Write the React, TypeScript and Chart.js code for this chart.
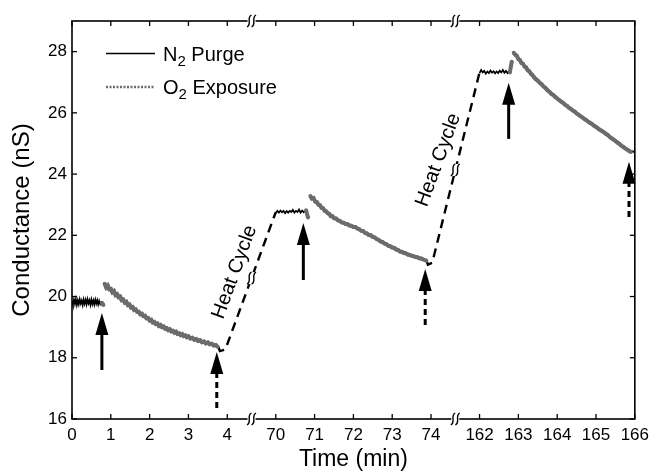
import React, { useEffect, useRef } from 'react';
import { Chart, registerables } from 'chart.js';

Chart.register(...registerables);

const FONT = '"Liberation Sans", Arial, Helvetica, sans-serif';

// Tick labels of the broken time axis (minutes)
const TICK_LABELS = ['0', '1', '2', '3', '4', '70', '71', '72', '73', '74', '162', '163', '164', '165', '166'];
const Y_TICKS = [16, 18, 20, 22, 24, 26, 28];

// Axis segments: real-time start of each segment and its offset on the drawn axis
const SEGMENT_STARTS = [0, 70, 162];
const SEGMENT_OFFSETS = [0, 5.25, 10.5];
const AXIS_MAX = 14.5;
const BREAKS = [4.625, 9.875];

function toAxis(t: number): number {
  for (let i = SEGMENT_STARTS.length - 1; i >= 0; i--) {
    if (t >= SEGMENT_STARTS[i] - 0.5) return t - SEGMENT_STARTS[i] + SEGMENT_OFFSETS[i];
  }
  return t;
}

// N2 purge (black) — [time, conductance]
const N2_SEG1: number[][] = [
  [0, 19.86], [0.025, 19.74], [0.05, 19.9], [0.075, 19.76], [0.1, 19.92], [0.125, 19.73], [0.15, 19.88],
  [0.175, 19.75], [0.2, 19.91], [0.225, 19.77], [0.25, 19.87], [0.275, 19.72], [0.3, 19.9], [0.325, 19.76],
  [0.35, 19.89], [0.375, 19.74], [0.4, 19.91], [0.425, 19.78], [0.45, 19.88], [0.475, 19.73], [0.5, 19.9],
  [0.525, 19.75], [0.55, 19.87], [0.575, 19.74], [0.6, 19.9], [0.625, 19.77], [0.65, 19.88], [0.675, 19.74],
  [0.7, 19.86], [0.725, 19.76], [0.75, 19.84],
];
const N2_SEG2: number[][] = [
  [70.0, 22.72], [70.04, 22.8], [70.08, 22.74], [70.12, 22.81], [70.16, 22.75], [70.2, 22.8], [70.24, 22.72],
  [70.28, 22.79], [70.32, 22.74], [70.36, 22.8], [70.4, 22.76], [70.44, 22.83], [70.48, 22.74], [70.52, 22.8],
  [70.56, 22.76], [70.6, 22.84], [70.64, 22.74], [70.68, 22.81], [70.72, 22.75], [70.75, 22.79],
];
const N2_SEG3: number[][] = [
  [162.0, 27.3], [162.04, 27.4], [162.08, 27.32], [162.12, 27.37], [162.16, 27.28], [162.2, 27.35],
  [162.24, 27.3], [162.28, 27.38], [162.32, 27.31], [162.36, 27.36], [162.4, 27.29], [162.44, 27.35],
  [162.48, 27.3], [162.52, 27.38], [162.56, 27.32], [162.6, 27.4], [162.64, 27.31], [162.68, 27.37],
  [162.72, 27.3], [162.75, 27.35],
];
const N2_SEG4: number[][] = [[165.93, 24.76], [166.0, 24.7]];

// O2 exposure (grey) — transition dots and decay curves
const O2_TRANS1: number[][] = [[0.77, 19.8], [0.81, 19.72]];
const O2_SEG1: number[][] = [
  [0.84, 20.42], [0.88, 20.3], [0.92, 20.36], [0.96, 20.24], [1.0, 20.25], [1.04, 20.14], [1.08, 20.18],
  [1.12, 20.05], [1.16, 20.08], [1.2, 19.98], [1.24, 20.0], [1.28, 19.88], [1.32, 19.9], [1.36, 19.8],
  [1.4, 19.83], [1.44, 19.72], [1.48, 19.74], [1.52, 19.64], [1.56, 19.66], [1.6, 19.56], [1.64, 19.58],
  [1.68, 19.5], [1.72, 19.5], [1.76, 19.42], [1.8, 19.44], [1.84, 19.36], [1.88, 19.37], [1.92, 19.29],
  [1.96, 19.3], [2.0, 19.22], [2.04, 19.24], [2.08, 19.15], [2.12, 19.17], [2.16, 19.1], [2.2, 19.12],
  [2.24, 19.04], [2.28, 19.07], [2.32, 19.0], [2.36, 19.02], [2.4, 18.95], [2.44, 18.97], [2.48, 18.9],
  [2.52, 18.93], [2.56, 18.86], [2.6, 18.88], [2.64, 18.82], [2.68, 18.85], [2.72, 18.78], [2.76, 18.8],
  [2.8, 18.74], [2.84, 18.77], [2.88, 18.71], [2.92, 18.73], [2.96, 18.67], [3.0, 18.7], [3.05, 18.63],
  [3.1, 18.65], [3.15, 18.59], [3.2, 18.61], [3.25, 18.55], [3.3, 18.57], [3.35, 18.51], [3.4, 18.53],
  [3.45, 18.47], [3.5, 18.5], [3.55, 18.44], [3.6, 18.46], [3.65, 18.4], [3.7, 18.42], [3.75, 18.36],
];
const O2_TRANS2: number[][] = [[70.78, 22.82], [70.83, 22.58]];
const O2_SEG2: number[][] = [
  [70.89, 23.28], [70.93, 23.2], [70.97, 23.22], [71.02, 23.1], [71.06, 23.08], [71.1, 23.0], [71.14, 22.98],
  [71.18, 22.9], [71.22, 22.88], [71.26, 22.8], [71.3, 22.78], [71.34, 22.72], [71.38, 22.7], [71.42, 22.62],
  [71.46, 22.62], [71.5, 22.56], [71.55, 22.55], [71.6, 22.49], [71.65, 22.47], [71.7, 22.42], [71.75, 22.41],
  [71.8, 22.37], [71.85, 22.36], [71.9, 22.32], [71.95, 22.31], [72.0, 22.27], [72.05, 22.27], [72.1, 22.22],
  [72.15, 22.2], [72.2, 22.15], [72.25, 22.14], [72.3, 22.08], [72.35, 22.06], [72.4, 22.01], [72.45, 22.0],
  [72.5, 21.95], [72.55, 21.93], [72.6, 21.88], [72.65, 21.85], [72.7, 21.8], [72.75, 21.78], [72.8, 21.73],
  [72.85, 21.71], [72.9, 21.66], [72.95, 21.64], [73.0, 21.6], [73.05, 21.59], [73.1, 21.54], [73.15, 21.52],
  [73.2, 21.47], [73.25, 21.46], [73.3, 21.42], [73.35, 21.41], [73.4, 21.37], [73.45, 21.36], [73.5, 21.33],
  [73.55, 21.32], [73.6, 21.29], [73.65, 21.28], [73.7, 21.25], [73.75, 21.24], [73.8, 21.21], [73.88, 21.17],
];
const O2_TRANS3: number[][] = [[162.78, 27.32], [162.83, 27.67]];
const O2_SEG3: number[][] = [
  [162.88, 27.96], [162.92, 27.9], [162.96, 27.86], [163.0, 27.76], [163.04, 27.72], [163.08, 27.63],
  [163.12, 27.6], [163.16, 27.51], [163.2, 27.48], [163.24, 27.39], [163.28, 27.36], [163.32, 27.28],
  [163.36, 27.24], [163.4, 27.17], [163.45, 27.1], [163.5, 27.05], [163.55, 26.98], [163.6, 26.93],
  [163.65, 26.86], [163.7, 26.81], [163.75, 26.74], [163.8, 26.69], [163.85, 26.62], [163.9, 26.58],
  [163.95, 26.52], [164.0, 26.47], [164.05, 26.42], [164.1, 26.37], [164.15, 26.33], [164.2, 26.27],
  [164.25, 26.23], [164.3, 26.17], [164.35, 26.13], [164.4, 26.08], [164.45, 26.04], [164.5, 25.98],
  [164.55, 25.94], [164.6, 25.89], [164.65, 25.85], [164.7, 25.8], [164.75, 25.76], [164.8, 25.71],
  [164.85, 25.67], [164.9, 25.63], [164.95, 25.58], [165.0, 25.54], [165.05, 25.49], [165.1, 25.45],
  [165.15, 25.41], [165.2, 25.37], [165.25, 25.32], [165.3, 25.28], [165.35, 25.22], [165.4, 25.17],
  [165.45, 25.13], [165.5, 25.08], [165.55, 25.03], [165.6, 24.99], [165.65, 24.93], [165.7, 24.89],
  [165.75, 24.84], [165.8, 24.8], [165.85, 24.76], [165.9, 24.72],
];

// Heat cycle ramps (dashed)
const HEAT_RAMP1: number[][] = [[3.77, 18.36], [3.81, 18.22], [3.95, 18.27], [70.0, 22.76]];
const HEAT_RAMP2: number[][] = [[73.88, 21.18], [73.92, 21.04], [74.03, 21.1], [162.0, 27.32]];

// Arrows: [time, tip value, tail value]
const SOLID_ARROWS: number[][] = [[0.77, 19.46, 17.6], [70.71, 22.4, 20.54], [162.75, 26.98, 25.15]];
const DASHED_ARROWS: number[][] = [[3.73, 18.19, 16.36], [73.85, 20.9, 19.07], [165.85, 24.4, 22.6]];

// "Heat Cycle" labels: [axis position, value]
const HEAT_LABELS: number[][] = [[4.19, 20.8], [9.44, 24.46]];

const GREY = '#6c6c6c';

function toPoints(...segs: number[][][]) {
  const out: { x: number; y: number | null }[] = [];
  segs.forEach((seg, i) => {
    if (i > 0) out.push({ x: toAxis(seg[0][0]) - 0.001, y: null });
    seg.forEach(([t, v]) => out.push({ x: toAxis(t), y: v }));
  });
  return out;
}

function squiggle(ctx: CanvasRenderingContext2D, cx: number, cy: number, clear: number) {
  ctx.save();
  ctx.fillStyle = '#fff';
  ctx.fillRect(cx - 4, cy - clear, 8, clear * 2);
  ctx.strokeStyle = '#000';
  ctx.lineWidth = 1.4;
  ctx.setLineDash([]);
  for (const dx of [-2.3, 2.3]) {
    const x = cx + dx;
    ctx.beginPath();
    ctx.moveTo(x - 2.2, cy + 6);
    ctx.bezierCurveTo(x + 3.2, cy + 3, x - 3.2, cy - 3, x + 2.2, cy - 6);
    ctx.stroke();
  }
  ctx.restore();
}

function arrow(ctx: CanvasRenderingContext2D, x: number, tipY: number, tailY: number, dashed: boolean) {
  const headLen = 22;
  const headW = 6.5;
  ctx.save();
  ctx.strokeStyle = '#000';
  ctx.fillStyle = '#000';
  ctx.lineWidth = 3;
  ctx.setLineDash(dashed ? [6, 4] : []);
  ctx.beginPath();
  ctx.moveTo(x, tailY);
  ctx.lineTo(x, tipY + headLen - 2);
  ctx.stroke();
  ctx.setLineDash([]);
  ctx.beginPath();
  ctx.moveTo(x, tipY);
  ctx.lineTo(x - headW, tipY + headLen);
  ctx.lineTo(x + headW, tipY + headLen);
  ctx.closePath();
  ctx.fill();
  ctx.restore();
}

function subText(ctx: CanvasRenderingContext2D, x: number, y: number, main: string, sub: string, rest: string) {
  ctx.fillStyle = '#000';
  ctx.textAlign = 'left';
  ctx.textBaseline = 'alphabetic';
  ctx.font = `20px ${FONT}`;
  ctx.fillText(main, x, y);
  x += ctx.measureText(main).width;
  ctx.font = `15px ${FONT}`;
  ctx.fillText(sub, x, y + 5);
  x += ctx.measureText(sub).width;
  ctx.font = `20px ${FONT}`;
  ctx.fillText(rest, x, y);
}

const overlay = {
  id: 'overlay',
  afterDraw(chart: any) {
    const { ctx, chartArea: a, scales } = chart;
    const xs = scales.x;
    const ys = scales.y;
    const X = (t: number) => xs.getPixelForValue(toAxis(t));
    const XA = (u: number) => xs.getPixelForValue(u);
    const Y = (v: number) => ys.getPixelForValue(v);
    ctx.save();
    ctx.strokeStyle = '#000';
    ctx.lineWidth = 1.6;
    ctx.setLineDash([]);
    ctx.strokeRect(a.left, a.top, a.right - a.left, a.bottom - a.top);
    ctx.lineWidth = 1.3;
    const seg = (x1: number, y1: number, x2: number, y2: number) => {
      ctx.beginPath();
      ctx.moveTo(x1, y1);
      ctx.lineTo(x2, y2);
      ctx.stroke();
    };
    TICK_LABELS.forEach((l) => {
      const px = X(Number(l));
      seg(px, a.bottom, px, a.bottom - 5);
      seg(px, a.top, px, a.top + 5);
    });
    Y_TICKS.forEach((v) => {
      const py = Y(v);
      seg(a.left, py, a.left + 5, py);
      seg(a.right, py, a.right - 5, py);
    });
    BREAKS.forEach((u) => {
      squiggle(ctx, XA(u), a.bottom, 2.5);
      squiggle(ctx, XA(u), a.top, 2.5);
    });
    // squiggles on heat ramps
    [HEAT_RAMP1, HEAT_RAMP2].forEach((ramp, i) => {
      const u = BREAKS[i];
      for (let k = 0; k < ramp.length - 1; k++) {
        const u1 = toAxis(ramp[k][0]);
        const u2 = toAxis(ramp[k + 1][0]);
        if (u1 <= u && u2 >= u) {
          const x1 = XA(u1), x2 = XA(u2), y1 = Y(ramp[k][1]), y2 = Y(ramp[k + 1][1]);
          const px = XA(u);
          const py = y1 + ((px - x1) / (x2 - x1)) * (y2 - y1);
          squiggle(ctx, px, py, 6);
        }
      }
    });
    SOLID_ARROWS.forEach(([t, tip, tail]) => arrow(ctx, X(t), Y(tip), Y(tail), false));
    DASHED_ARROWS.forEach(([t, tip, tail]) => arrow(ctx, X(t), Y(tip), Y(tail), true));
    // Heat Cycle labels
    HEAT_LABELS.forEach(([u, v]) => {
      ctx.save();
      ctx.translate(XA(u), Y(v));
      ctx.rotate((-70 * Math.PI) / 180);
      ctx.fillStyle = '#000';
      ctx.font = `20px ${FONT}`;
      ctx.textAlign = 'center';
      ctx.textBaseline = 'middle';
      ctx.fillText('Heat Cycle', 0, 0);
      ctx.restore();
    });
    // Legend
    ctx.strokeStyle = '#000';
    ctx.lineWidth = 1.6;
    seg(a.left + 34, 53.5, a.left + 83, 53.5);
    ctx.strokeStyle = GREY;
    ctx.lineWidth = 2.5;
    ctx.setLineDash([2, 1.5]);
    seg(a.left + 34, 87, a.left + 83, 87);
    ctx.setLineDash([]);
    subText(ctx, a.left + 91, 61, 'N', '2', ' Purge');
    subText(ctx, a.left + 91, 94, 'O', '2', ' Exposure');
    ctx.restore();
  },
};

export default function App() {
  const ref = useRef<HTMLCanvasElement | null>(null);
  useEffect(() => {
    document.body.style.margin = '0';
    const canvas = ref.current;
    if (!canvas) return;
    const tickPos = TICK_LABELS.map((l) => toAxis(Number(l)));
    const chart = new Chart(canvas, {
      type: 'line',
      data: {
        datasets: [
          {
            label: 'O2 Exposure',
            data: toPoints(O2_TRANS1, O2_SEG1, O2_TRANS2, O2_SEG2, O2_TRANS3, O2_SEG3),
            borderColor: GREY,
            backgroundColor: GREY,
            borderWidth: 4,
            pointRadius: 2,
            pointBorderWidth: 0,
            pointBackgroundColor: GREY,
            spanGaps: false,
            tension: 0,
          },
          {
            label: 'N2 Purge',
            data: toPoints(N2_SEG1, N2_SEG2, N2_SEG3, N2_SEG4),
            borderColor: '#000',
            borderWidth: 1.7,
            pointRadius: 0,
            spanGaps: false,
            tension: 0,
          },
          {
            label: 'Heat Cycle',
            data: toPoints(HEAT_RAMP1, HEAT_RAMP2),
            borderColor: '#000',
            borderWidth: 2.4,
            borderDash: [9, 6],
            pointRadius: 0,
            spanGaps: false,
            tension: 0,
          },
        ],
      },
      options: {
        animation: false,
        responsive: false,
        parsing: false as any,
        normalized: true,
        layout: { padding: { left: 0, right: 16, top: 21, bottom: 0 } },
        plugins: { legend: { display: false }, tooltip: { enabled: false } },
        scales: {
          x: {
            type: 'linear',
            min: 0,
            max: AXIS_MAX,
            afterBuildTicks: (s: any) => {
              s.ticks = tickPos.map((v) => ({ value: v }));
            },
            afterFit: (s: any) => {
              s.height = 57;
            },
            ticks: {
              autoSkip: false,
              maxRotation: 0,
              padding: 6,
              color: '#000',
              font: { family: FONT, size: 17 },
              callback: (value: any) => {
                const i = tickPos.findIndex((p) => Math.abs(p - Number(value)) < 1e-6);
                return i >= 0 ? TICK_LABELS[i] : '';
              },
            },
            grid: { display: false, drawTicks: false },
            border: { display: false },
            title: {
              display: true,
              text: 'Time (min)',
              color: '#000',
              font: { family: FONT, size: 23 },
              padding: 3,
            },
          },
          y: {
            type: 'linear',
            min: 16,
            max: 29,
            afterBuildTicks: (s: any) => {
              s.ticks = Y_TICKS.map((v) => ({ value: v }));
            },
            afterFit: (s: any) => {
              s.width = 72;
            },
            ticks: {
              padding: 5,
              color: '#000',
              font: { family: FONT, size: 17 },
            },
            grid: { display: false, drawTicks: false },
            border: { display: false },
            title: {
              display: true,
              text: 'Conductance (nS)',
              color: '#000',
              font: { family: FONT, size: 24 },
              padding: 8,
            },
          },
        },
      },
      plugins: [overlay],
    } as any);
    return () => chart.destroy();
  }, []);
  return (
    <div style={{ position: 'fixed', left: 0, top: 0, width: 655, height: 476, background: '#fff' }}>
      <canvas ref={ref} width={655} height={476} style={{ display: 'block' }} />
    </div>
  );
}
